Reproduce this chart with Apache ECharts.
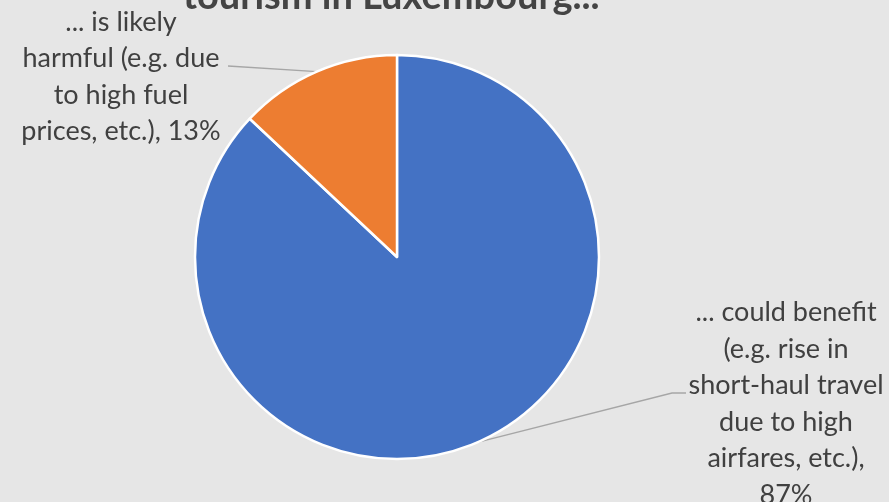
<!DOCTYPE html>
<html>
<head>
<meta charset="utf-8">
<script src="https://cdn.jsdelivr.net/npm/echarts@6/dist/echarts.min.js"></script>
<style>
  html, body { margin: 0; padding: 0; background: #e6e6e6; }
  #chart { width: 889px; height: 502px; }
</style>
</head>
<body>
<div id="chart"></div>
<script>
// Share of respondents: effect of the energy crisis on tourism in Luxembourg
const categories = [
  '... could benefit\n(e.g. rise in\nshort-haul travel\ndue to high\nairfares, etc.),',
  '... is likely\nharmful (e.g. due\nto high fuel\nprices, etc.),'
];
const values = [87, 13];
const colors = ['#4472C4', '#ED7D31'];
const titleText = 'tourism in Luxembourg...';

// Label block centres (pixels) for each slice
const labelCentres = [[786, 404], [121, 77]];

const chart = echarts.init(document.getElementById('chart'), null, { renderer: 'canvas' });

chart.setOption({
  backgroundColor: '#e6e6e6',
  animation: false,
  title: {
    text: titleText,
    left: 178,
    top: -27,
    textStyle: {
      fontFamily: 'Lato',
      fontWeight: 'bold',
      fontSize: 38,
      color: '#444444'
    }
  },
  series: [{
    type: 'pie',
    center: [397, 257],
    radius: 202,
    startAngle: 90,
    clockwise: true,
    data: categories.map((name, i) => ({
      name: name,
      value: values[i],
      itemStyle: { color: colors[i] }
    })),
    itemStyle: { borderColor: '#ffffff', borderWidth: 2.5 },
    label: {
      show: true,
      position: 'outside',
      // the large slice puts its percentage on a line of its own
      formatter: p => p.name + (p.dataIndex === 0 ? '\n' : ' ') + p.value + '%',
      fontFamily: 'Lato',
      fontSize: 27,
      lineHeight: 36.5,
      color: '#404040',
      align: 'center'
    },
    labelLine: {
      show: true,
      lineStyle: { color: '#a6a6a6', width: 1.3 }
    },
    labelLayout: function (params) {
      const i = params.dataIndex;
      const c = labelCentres[i];
      const start = params.labelLinePoints ? params.labelLinePoints[0] : null;
      const out = {
        x: c[0],
        y: c[1],
        align: 'center',
        verticalAlign: 'middle'
      };
      if (start) {
        if (i === 0) {
          // leader meets the third text line on its left side
          out.labelLinePoints = [start, [672, 393], [686, 393]];
        } else {
          out.labelLinePoints = [start, [228, 66], [228, 66]];
        }
      }
      return out;
    }
  }]
});
</script>
</body>
</html>
